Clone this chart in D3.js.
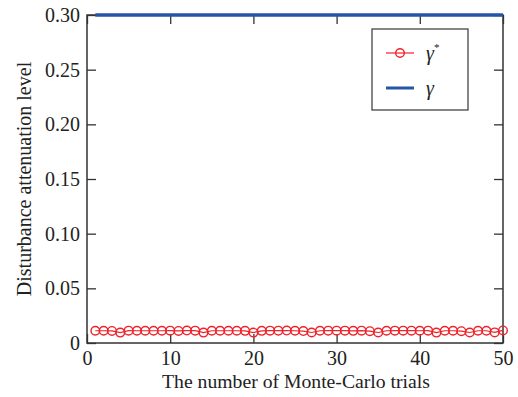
<!DOCTYPE html>
<html>
<head>
<meta charset="utf-8">
<script src="https://cdn.jsdelivr.net/npm/d3@7"></script>
<style>
  body { margin: 0; background: #fff; }
</style>
</head>
<body>
<div id="chart"></div>
<script>
// trials 1..50 and measured gamma*
var trials = d3.range(1, 51)
var gammaStar = [0.0112,0.0112,0.0110,0.0095,0.0113,0.0112,0.0112,0.0112,0.0112,0.0113,
                 0.0110,0.0114,0.0113,0.0095,0.0112,0.0112,0.0112,0.0112,0.0111,0.0095,
                 0.0111,0.0113,0.0113,0.0114,0.0112,0.0109,0.0096,0.0112,0.0113,0.0113,
                 0.0113,0.0111,0.0113,0.0108,0.0096,0.0112,0.0113,0.0113,0.0113,0.0112,
                 0.0113,0.0095,0.0112,0.0112,0.0108,0.0096,0.0112,0.0112,0.0097,0.0115]
var gammaBound = 0.30
var xTicks = [0, 10, 20, 30, 40, 50]
var yTicks = [0, 0.05, 0.10, 0.15, 0.20, 0.25, 0.30]

var W = 518, H = 397
var pL = 87, pR = 503, pT = 15, pB = 343
var serif = '"Liberation Serif", "Times New Roman", serif'

var svg = d3.select('#chart').append('svg')
    .attr('width', W)
    .attr('height', H)

var x = d3.scaleLinear().domain([0, 50]).range([pL, pR])
var y = d3.scaleLinear().domain([0, 0.30]).range([pB, pT])

var axisColor = '#333'
var tickLen = 9

// frame
svg.append('rect')
    .attr('x', pL).attr('y', pT)
    .attr('width', pR - pL).attr('height', pB - pT)
    .attr('fill', 'none').attr('stroke', axisColor).attr('stroke-width', 1.5)

// bottom axis with inward ticks
var gx = svg.append('g').attr('transform', 'translate(0,' + pB + ')')
    .call(d3.axisBottom(x).tickValues(xTicks).tickSize(-tickLen).tickPadding(8).tickFormat(d3.format('d')))
gx.select('.domain').remove()
gx.selectAll('line').attr('stroke', axisColor).attr('stroke-width', 1.3)
gx.selectAll('text').attr('font-size', 20).attr('font-family', serif).attr('fill', '#222')

// top ticks
svg.append('g').attr('transform', 'translate(0,' + pT + ')')
    .call(d3.axisTop(x).tickValues(xTicks).tickSize(-tickLen).tickFormat(''))
    .call(function(g) { g.select('.domain').remove() })
    .selectAll('line').attr('stroke', axisColor).attr('stroke-width', 1.3)

// left axis
var gy = svg.append('g').attr('transform', 'translate(' + pL + ',0)')
    .call(d3.axisLeft(y).tickValues(yTicks).tickSize(-tickLen).tickPadding(7)
        .tickFormat(function(d) { return d === 0 ? '0' : d3.format('.2f')(d) }))
gy.select('.domain').remove()
gy.selectAll('line').attr('stroke', axisColor).attr('stroke-width', 1.3)
gy.selectAll('text').attr('font-size', 20).attr('font-family', serif).attr('fill', '#222')

// right ticks
svg.append('g').attr('transform', 'translate(' + pR + ',0)')
    .call(d3.axisRight(y).tickValues(yTicks).tickSize(-tickLen).tickFormat(''))
    .call(function(g) { g.select('.domain').remove() })
    .selectAll('line').attr('stroke', axisColor).attr('stroke-width', 1.3)

var red = '#ee2229'
var blue = '#2356a6'

// gamma bound line
svg.append('line')
    .attr('x1', x(trials[0])).attr('x2', x(trials[trials.length - 1]))
    .attr('y1', y(gammaBound)).attr('y2', y(gammaBound))
    .attr('stroke', blue).attr('stroke-width', 3.5)

// gamma* line + circles
var line = d3.line().x(function(d, i) { return x(trials[i]) }).y(function(d) { return y(d) })
svg.append('path').datum(gammaStar)
    .attr('d', line).attr('fill', 'none').attr('stroke', red).attr('stroke-width', 1.2)
svg.selectAll('circle.pt').data(gammaStar).enter().append('circle')
    .attr('class', 'pt')
    .attr('cx', function(d, i) { return x(trials[i]) })
    .attr('cy', function(d) { return y(d) })
    .attr('r', 4.3)
    .attr('fill', 'none').attr('stroke', red).attr('stroke-width', 1.4)

// axis titles
svg.append('text')
    .attr('x', (pL + pR) / 2 + 1).attr('y', 388)
    .attr('text-anchor', 'middle').attr('font-size', 19.7)
    .attr('font-family', serif).attr('fill', '#222')
    .text('The number of Monte-Carlo trials')
svg.append('text')
    .attr('transform', 'translate(31,' + ((pT + pB) / 2) + ') rotate(-90)')
    .attr('text-anchor', 'middle').attr('font-size', 20)
    .attr('font-family', serif).attr('fill', '#222')
    .text('Disturbance attenuation level')

// legend
var lg = svg.append('g').attr('transform', 'translate(372,29)')
lg.append('rect').attr('width', 96).attr('height', 81)
    .attr('fill', '#fff').attr('stroke', '#444').attr('stroke-width', 1.3)
lg.append('line').attr('x1', 14).attr('x2', 42).attr('y1', 24).attr('y2', 24)
    .attr('stroke', red).attr('stroke-width', 1.2)
lg.append('circle').attr('cx', 28).attr('cy', 24).attr('r', 4.3)
    .attr('fill', 'none').attr('stroke', red).attr('stroke-width', 1.4)
var t1 = lg.append('text').attr('x', 54).attr('y', 31).attr('font-size', 20)
    .attr('font-family', serif).attr('fill', '#222')
t1.append('tspan').attr('font-style', 'italic').text('γ')
t1.append('tspan').attr('dy', -9).attr('font-size', 11).text('*')
lg.append('line').attr('x1', 14).attr('x2', 42).attr('y1', 59).attr('y2', 59)
    .attr('stroke', blue).attr('stroke-width', 3)
lg.append('text').attr('x', 54).attr('y', 66).attr('font-size', 20)
    .attr('font-family', serif).attr('fill', '#222')
    .attr('font-style', 'italic').text('γ')
</script>
</body>
</html>
